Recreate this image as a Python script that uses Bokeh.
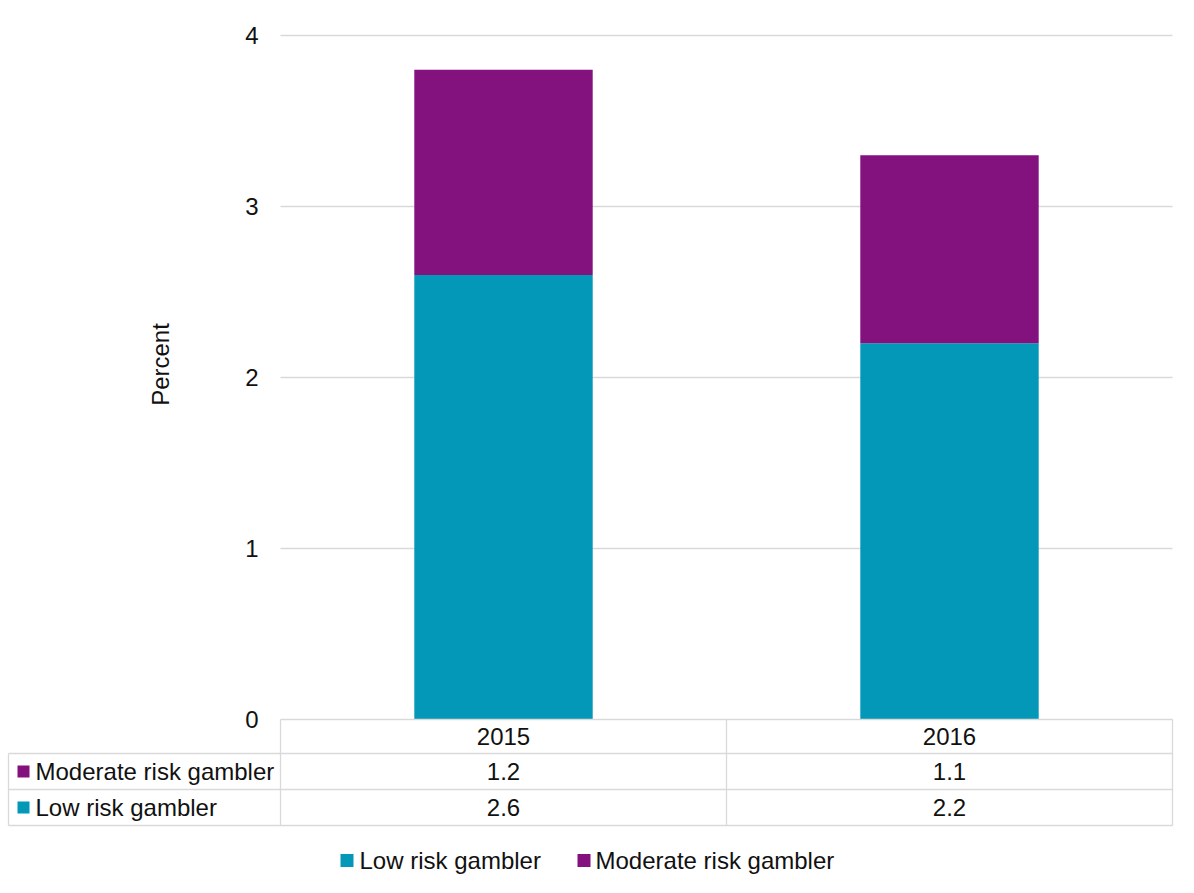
import math
from bokeh.plotting import figure
from bokeh.models import ColumnDataSource, Range1d
from bokeh.core.properties import value
from bokeh.embed import file_html
from bokeh.resources import INLINE

# Share of adults by gambling risk category (percent)
years = ["2015", "2016"]
low_risk = [2.6, 2.2]
moderate_risk = [1.2, 1.1]
series_names = ["Low risk gambler", "Moderate risk gambler"]
y_ticks = [0, 1, 2, 3, 4]

TEAL = "#0397B8"
PURPLE = "#83117E"
GRID = "#D9D9D9"
TEXT = "#111111"
FONT = "Liberation Sans"
FS = "24px"

W, H = 1194, 893
PLOT_L, PLOT_R, PLOT_T, PLOT_B = 280, 1172, 35, 719   # pixel box of the bar area
Y_MAX = 4
COL_W = (PLOT_R - PLOT_L) / len(years)                # pixels per category column
Y_PX = (PLOT_B - PLOT_T) / Y_MAX                      # pixels per percent


def px_to_x(px):
    return (px - PLOT_L) / COL_W


def px_to_y(py):
    return (PLOT_B - py) / Y_PX


# One canvas-wide frame: x in category-index units, y in percent
p = figure(width=W, height=H, x_range=Range1d(px_to_x(0), px_to_x(W)),
           y_range=Range1d(px_to_y(H), px_to_y(0)), output_backend="svg",
           toolbar_location=None, x_axis_type=None, y_axis_type=None, min_border=0)
p.outline_line_color = None
p.grid.visible = False

n = len(years)
x_pos = [i + 0.5 for i in range(n)]
src = ColumnDataSource(dict(x=x_pos, low=low_risk, moderate=moderate_risk))

common = dict(text_font=value(FONT), text_font_size=value(FS), text_color=TEXT,
              text_baseline="middle")

# value axis: gridlines, tick labels and title
p.segment(x0=[0] * (len(y_ticks) - 1), x1=[n] * (len(y_ticks) - 1),
          y0=y_ticks[1:], y1=y_ticks[1:], line_color=GRID, line_width=1.3)
p.text(x=[px_to_x(PLOT_L - 22)] * len(y_ticks), y=y_ticks, text=[str(t) for t in y_ticks],
       text_align="right", **common)
p.text(x=[px_to_x(160)], y=[px_to_y(364)], text=["Percent"], angle=math.pi / 2,
       text_align="center", **common)

# stacked bars
p.vbar_stack(["low", "moderate"], x="x", width=0.4, source=src,
             color=[TEAL, PURPLE], line_color=None)

# data table under the bars
row_edges = [px_to_y(PLOT_B + d) for d in (0, 34, 70, 106)]
row_mid = [(a + b) / 2 for a, b in zip(row_edges[:-1], row_edges[1:])]
table_left = px_to_x(8)

p.segment(x0=[0, table_left, table_left, table_left], x1=[n] * 4,
          y0=row_edges, y1=row_edges, line_color=GRID, line_width=1.3)
vx = [table_left] + list(range(n + 1))
p.segment(x0=vx, x1=vx, y0=[row_edges[1]] + [row_edges[0]] * (n + 1),
          y1=[row_edges[3]] * (n + 2), line_color=GRID, line_width=1.3)

p.text(x=x_pos, y=[row_mid[0]] * n, text=years, text_align="center", **common)
p.text(x=x_pos, y=[row_mid[1]] * n, text=[f"{v:.1f}" for v in moderate_risk],
       text_align="center", **common)
p.text(x=x_pos, y=[row_mid[2]] * n, text=[f"{v:.1f}" for v in low_risk],
       text_align="center", **common)

# row headers with colour keys
p.scatter(x=[px_to_x(23)] * 2, y=[row_mid[1], row_mid[2]], marker="square", size=12,
          color=[PURPLE, TEAL], line_color=None)
p.text(x=[px_to_x(35)] * 2, y=[row_mid[1], row_mid[2]],
       text=[series_names[1], series_names[0]], text_align="left", **common)

# legend
legend_y = px_to_y(860)
p.scatter(x=[px_to_x(346.5), px_to_x(583.5)], y=[legend_y] * 2, marker="square", size=13,
          color=[TEAL, PURPLE], line_color=None)
p.text(x=[px_to_x(359), px_to_x(595)], y=[legend_y] * 2, text=series_names,
       text_align="left", **common)

open("out.html", "w").write(file_html(p, INLINE))
